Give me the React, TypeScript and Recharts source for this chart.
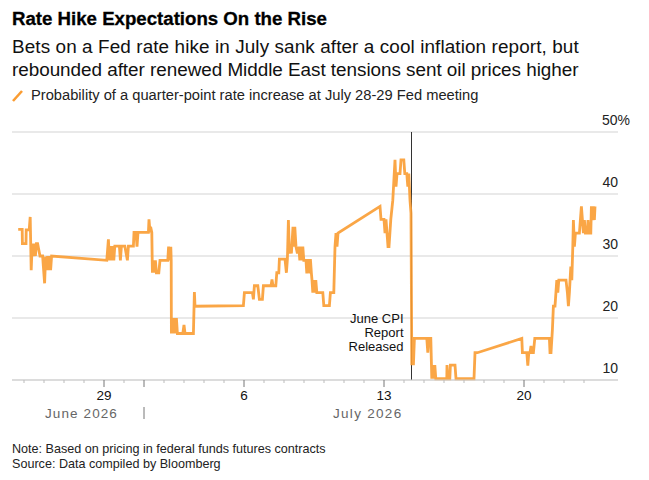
import { LineChart, Line, XAxis, YAxis, CartesianGrid, ReferenceLine } from 'recharts';

// days since June 29
const dayOffsets = [
  -4.29, -4.09, -4.08, -3.9, -3.89, -3.74, -3.69, -3.64, -3.59, -3.53, -3.49, -3.43, -3.38, -3.32, -3.2, -3.07,
  -2.97, -2.92, -2.87, -2.82, -2.77, -2.72, -2.67, -2.62, 0.14, 0.22, 0.27, 0.32, 0.37, 0.44, 0.49, 0.54,
  0.77, 0.82, 0.87, 1.04, 1.17, 1.22, 1.47, 1.5, 1.6, 1.65, 1.7, 2.22, 2.25, 2.3, 2.33, 2.39,
  2.42, 2.47, 2.52, 2.57, 2.62, 2.74, 2.8, 3.19, 3.23, 3.29, 3.34, 3.36, 3.37, 3.42, 3.47, 3.52,
  3.57, 3.62, 3.67, 3.94, 4.0, 4.05, 4.47, 4.52, 4.55, 6.97, 7.02, 7.42, 7.47, 7.52, 7.69, 7.77,
  7.92, 7.97, 8.35, 8.4, 8.45, 8.59, 8.64, 8.74, 8.77, 9.05, 9.12, 9.17, 9.22, 9.27, 9.32, 9.37,
  9.45, 9.5, 9.54, 9.6, 9.67, 9.74, 9.79, 9.84, 9.89, 9.94, 9.99, 10.1, 10.14, 10.24, 10.29, 10.32,
  10.37, 10.4, 10.44, 10.49, 10.54, 10.59, 10.64, 10.94, 10.99, 11.27, 11.32, 11.49, 11.55, 11.6, 11.65, 11.7,
  13.8, 13.85, 14.0, 14.05, 14.1, 14.2, 14.25, 14.34, 14.44, 14.55, 14.6, 14.65, 14.8, 14.85, 14.99, 15.04,
  15.14, 15.19, 15.24, 15.3, 15.35, 15.39, 15.42, 15.47, 15.52, 16.14, 16.19, 16.24, 16.34, 16.39, 16.44, 16.49,
  16.54, 16.59, 17.14, 17.15, 17.19, 17.29, 17.32, 17.55, 17.6, 18.5, 18.55, 18.67, 20.89, 20.92, 21.14, 21.19,
  21.24, 21.3, 21.35, 21.4, 21.47, 21.54, 22.27, 22.3, 22.35, 22.42, 22.47, 22.55, 22.64, 22.69, 22.74, 23.1,
  23.17, 23.22, 23.27, 23.34, 23.39, 23.44, 23.47, 23.52, 23.57, 23.77, 23.87, 23.97, 24.02, 24.07, 24.17, 24.2,
  24.25, 24.34, 24.37, 24.42, 24.47, 24.52, 24.55,
];

const probabilities = [
  34.3, 34.3, 32, 32, 34.2, 34.2, 36.3, 27.7, 32, 30, 32, 30, 32, 32, 30, 30,
  25.6, 29.9, 27.7, 30, 27.7, 30, 27.7, 30, 29.3, 32.7, 29.3, 31.6, 29.3, 31.6, 29.3, 31.6,
  31.6, 29.3, 31.6, 31.6, 29.3, 31.6, 31.6, 33.8, 33.8, 31.5, 33.8, 33.8, 35.9, 33.8, 34.7, 33.8,
  27.3, 29.3, 27.3, 29.3, 27.3, 27.3, 29.3, 29.3, 31.5, 29.3, 31.5, 29.3, 17.5, 20, 17.5, 20,
  17.5, 20, 17.5, 17.5, 18.9, 17.5, 17.5, 24.2, 21.9, 22, 24.1, 24.1, 23, 25.2, 25.2, 23,
  23, 25.2, 25.2, 26.2, 25.2, 25.2, 27.3, 27.3, 29.5, 29.5, 27.3, 29.5, 35.8, 30.4, 31.5, 30.4,
  34.7, 31.5, 34.7, 31.5, 30.4, 31.5, 29.3, 31.5, 29.3, 31.5, 29.3, 29.3, 27.2, 29.5, 27.2, 29.5,
  27.2, 26.1, 24.1, 26.1, 24.1, 26.1, 24.1, 24.1, 22, 22, 24.1, 24.1, 31.5, 33.7, 31.5, 33.7,
  38, 35.9, 35.9, 33.7, 35.9, 31.5, 31.5, 35.9, 39, 45.5, 41.2, 43.3, 43.3, 45.5, 45.5, 43.3,
  43.3, 41.2, 43.3, 39, 36.9, 12.4, 16.7, 12.4, 16.7, 16.7, 14.4, 16.7, 16.7, 10.2, 12.4, 10.2,
  12.4, 10.2, 10.2, 12.4, 10.2, 10.2, 12.4, 12.4, 10.2, 10.2, 14.4, 14.4, 16.7, 14.4, 14.4, 12.3,
  14.4, 14.4, 15.5, 14.4, 14.4, 16.7, 16.7, 14.4, 14.4, 18.1, 21.9, 21.9, 26.1, 24.1, 26.1, 26.1,
  24.1, 21.9, 24.1, 28.3, 26.1, 31.5, 35.8, 31.5, 33.7, 33.7, 38, 33.7, 35.8, 33.7, 33.7, 35.8,
  33.7, 33.7, 38, 35.8, 38, 35.8, 38,
];

const yTicks = [10, 20, 30, 40, 50];
const dayTicks = [-4, -3, -2, -1, 0, 1, 2, 3, 4, 5, 6, 7, 8, 9, 10, 11, 12, 13, 14, 15, 16, 17, 18, 19, 20, 21, 22, 23, 24];
const dayLabels: Record<number, string> = { 0: '29', 7: '6', 14: '13', 21: '20' };
const monthBoundary = 2;
const cpiDay = 15.375;
const cpiLines = ['June CPI', 'Report', 'Released'];

const FONT = '"Liberation Sans", Arial, sans-serif';
const ORANGE = '#fa9c32';

const chartData = dayOffsets.map((day, i) => ({ day, value: probabilities[i] }));

const DayTick = ({ x, payload }: any) => {
  const label = dayLabels[payload.value];
  const isMonth = payload.value === monthBoundary;
  const major = label !== undefined || isMonth;
  const y = 380;
  return (
    <g>
      <line x1={x} x2={x} y1={y} y2={y + (major ? 7 : 3)} stroke={major ? '#777' : '#bbb'} strokeWidth={1} />
      {label && (
        <text x={x} y={y + 20} textAnchor="middle" fontFamily={FONT} fontSize={13.5} fill="#111">
          {label}
        </text>
      )}
      {isMonth && <line x1={x} x2={x} y1={y + 27} y2={y + 39} stroke="#777" strokeWidth={1} />}
    </g>
  );
};

const ValueTick = ({ y, payload }: any) => (
  <text x={payload.value === 50 ? 630 : 618} y={y - 7} textAnchor="end" fontFamily={FONT} fontSize={14} fill="#222">
    {payload.value === 50 ? '50%' : payload.value}
  </text>
);

const CpiLabel = ({ viewBox }: any) => (
  <g>
    {cpiLines.map((line, i) => (
      <text key={line} x={viewBox.x - 8} y={323 + i * 14} textAnchor="end" fontFamily={FONT} fontSize={13} fill="#111">
        {line}
      </text>
    ))}
  </g>
);

const absText = (left: number, top: number, size: number, color: string, weight = 400, spacing = 0) => ({
  position: 'absolute' as const,
  left,
  top,
  fontSize: size,
  lineHeight: `${size + 4}px`,
  color,
  fontWeight: weight,
  letterSpacing: spacing,
  whiteSpace: 'nowrap' as const,
});

export default function App() {
  return (
    <div style={{ position: 'absolute', left: 0, top: 0, width: 649, height: 480, background: '#fff', fontFamily: FONT, overflow: 'hidden' }}>
      <div style={{ ...absText(12, 8, 18.65, '#000', 700), WebkitTextStroke: '0.3px #000' }}>Rate Hike Expectations On the Rise</div>
      <div style={absText(12, 36, 18.9, '#111', 400, 0.1)}>Bets on a Fed rate hike in July sank after a cool inflation report, but</div>
      <div style={absText(12, 59, 18.9, '#111', 400, -0.04)}>rebounded after renewed Middle East tensions sent oil prices higher</div>
      <svg style={{ position: 'absolute', left: 12, top: 89 }} width={12} height={14}>
        <line x1={1} y1={12} x2={10} y2={2} stroke={ORANGE} strokeWidth={2.6} />
      </svg>
      <div style={absText(31, 86, 14.7, '#222')}>Probability of a quarter-point rate increase at July 28-29 Fed meeting</div>

      <div style={absText(45, 405, 13.5, '#666', 400, 1.1)}>June 2026</div>
      <div style={absText(333, 405, 13.5, '#666', 400, 1.3)}>July 2026</div>

      <div style={absText(12, 441, 12.6, '#222')}>Note: Based on pricing in federal funds futures contracts</div>
      <div style={absText(12, 456, 12.6, '#222')}>Source: Data compiled by Bloomberg</div>

      <div style={{ position: 'absolute', left: 0, top: 0 }}>
        <LineChart width={649} height={480} data={chartData} margin={{ top: 132, right: 0, bottom: 0, left: 12 }}>
          <CartesianGrid vertical={false} stroke="#e2e2e2" strokeWidth={1.5} />
          <XAxis
            dataKey="day"
            type="number"
            domain={[-4.6, 25.7]}
            ticks={dayTicks}
            interval={0}
            height={100}
            axisLine={{ stroke: '#cfcfcf' }}
            tickLine={false}
            tick={<DayTick />}
          />
          <YAxis
            orientation="right"
            width={31}
            domain={[10, 50]}
            ticks={yTicks}
            interval={0}
            axisLine={false}
            tickLine={false}
            tick={<ValueTick />}
          />
          <ReferenceLine x={cpiDay} stroke="#333" strokeWidth={1} label={<CpiLabel />} />
          <Line
            dataKey="value"
            type="linear"
            stroke={ORANGE}
            strokeWidth={2.8}
            strokeOpacity={0.9}
            dot={false}
            isAnimationActive={false}
          />
        </LineChart>
      </div>
    </div>
  );
}
